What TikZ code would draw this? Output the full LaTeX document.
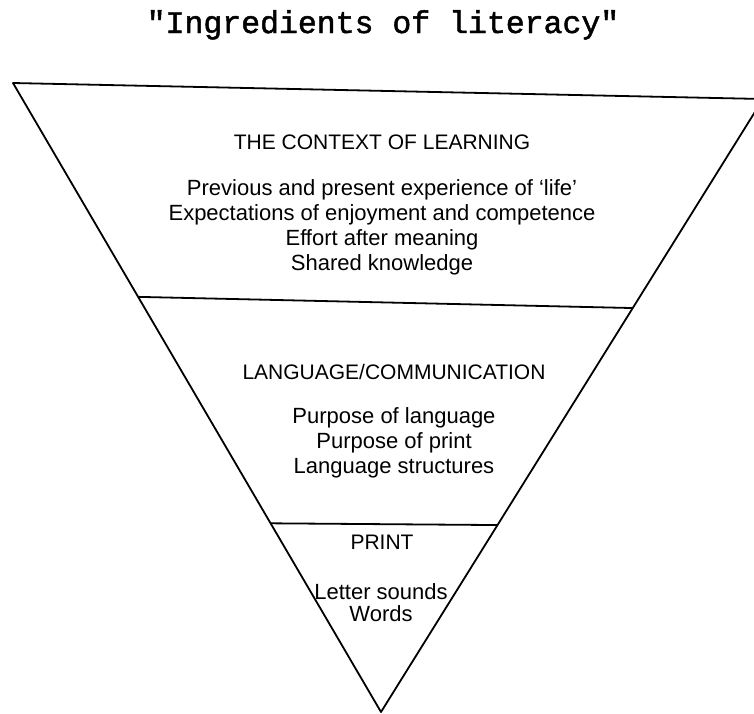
\documentclass[tikz,border=0pt]{standalone}
\usepackage{fontspec}
\setmainfont{Liberation Sans}
\newfontfamily\titlefont[FakeBold=1.5]{Liberation Mono}
\usetikzlibrary{calc}
\begin{document}
\begin{tikzpicture}[x=1pt,y=-1pt,
  edge/.style={line width=1.8pt,line join=round},
  heading/.style={inner sep=0pt,font=\fontsize{21}{25}\selectfont},
  items/.style={inner sep=0pt,align=center,font=\fontsize{22}{25}\selectfont}]
\useasboundingbox (0,0) rectangle (754,713);
\clip (0,0) rectangle (754,713);
\coordinate (topleft) at (13,83);
\coordinate (topright) at (763,99);
\coordinate (apex) at (381,712);
\coordinate (midleft) at ($(topleft)!0.34!(apex)$);
\coordinate (midright) at ($(topright)!0.341!(apex)$);
\coordinate (lowleft) at ($(topleft)!0.70!(apex)$);
\coordinate (lowright) at ($(topright)!0.695!(apex)$);
\draw[edge] (topleft) -- (topright) -- (apex) -- cycle;
\draw[edge] (midleft) -- (midright);
\draw[edge] (lowleft) -- (lowright);
\node (title) [anchor=base,inner sep=0pt,font=\titlefont\fontsize{31.5}{35}\selectfont] at (383,33) {"Ingredients of literacy"};
\node (context) [heading] at (382,142) {THE CONTEXT OF LEARNING};
\node (contextitems) [items] at (382,227) {Previous and present experience of ‘life’\\Expectations of enjoyment and competence\\Effort after meaning\\Shared knowledge};
\node (language) [heading] at (394,372) {LANGUAGE/COMMUNICATION};
\node (languageitems) [items] at (394,443) {Purpose of language\\Purpose of print\\Language structures};
\node (print) [heading] at (382,542) {PRINT};
\node (printitems) [items,font=\fontsize{22}{22}\selectfont] at (381,603) {Letter sounds\\Words};
\end{tikzpicture}
\end{document}
